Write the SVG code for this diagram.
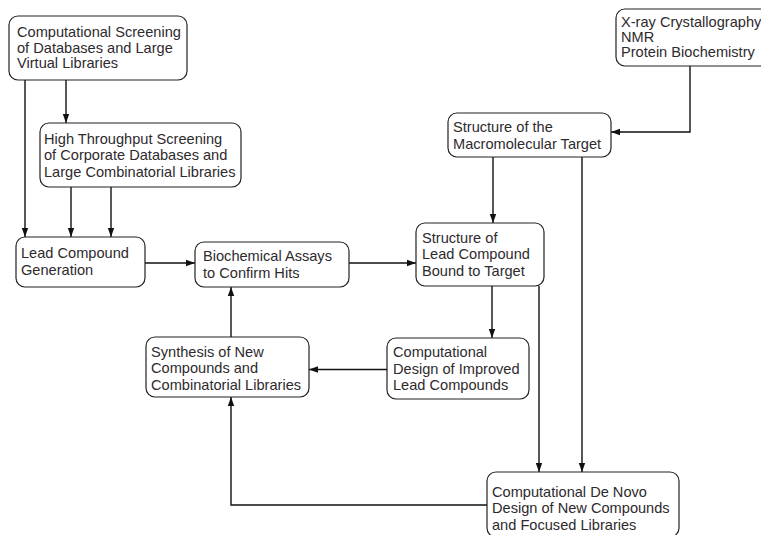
<svg xmlns="http://www.w3.org/2000/svg" width="761" height="535" viewBox="0 0 761 535">
<style>
.box{fill:#fff;stroke:#222;stroke-width:1.2}
.t{font-family:"Liberation Sans",Arial,sans-serif;font-size:14.6px;fill:#2e2a2e}
.c{fill:none;stroke:#111;stroke-width:1.4}
</style>
<defs>
<marker id="ah" markerWidth="10" markerHeight="8" refX="9" refY="4" orient="auto" markerUnits="userSpaceOnUse">
<path d="M0,0.8 L9,4 L0,7.2 Z" fill="#111"/>
</marker>
</defs>
<rect width="761" height="535" fill="#fff"/>
<g id="connectors">
<path class="c" d="M66,80 V123" marker-end="url(#ah)"/>
<path class="c" d="M25,80 V237" marker-end="url(#ah)"/>
<path class="c" d="M71,187 V237" marker-end="url(#ah)"/>
<path class="c" d="M111,187 V237" marker-end="url(#ah)"/>
<path class="c" d="M145,263 H195" marker-end="url(#ah)"/>
<path class="c" d="M349,263 H416" marker-end="url(#ah)"/>
<path class="c" d="M690,66 V132 H611" marker-end="url(#ah)"/>
<path class="c" d="M493,157 V223" marker-end="url(#ah)"/>
<path class="c" d="M582,157 V472" marker-end="url(#ah)"/>
<path class="c" d="M492,286 V338" marker-end="url(#ah)"/>
<path class="c" d="M539,286 V472" marker-end="url(#ah)"/>
<path class="c" d="M387,369.5 H309" marker-end="url(#ah)"/>
<path class="c" d="M231,337 V287" marker-end="url(#ah)"/>
<path class="c" d="M487,505 H231 V397" marker-end="url(#ah)"/>
</g>
<g id="n1">
<rect class="box" x="9" y="16" width="178" height="64" rx="9"/>
<text class="t" x="17" y="37">Computational Screening</text>
<text class="t" x="17" y="52.5">of Databases and Large</text>
<text class="t" x="17" y="68">Virtual Libraries</text>
</g>
<g id="n2">
<rect class="box" x="40" y="123" width="201" height="64" rx="9"/>
<text class="t" x="44" y="143.5">High Throughput Screening</text>
<text class="t" x="44" y="160">of Corporate Databases and</text>
<text class="t" x="44" y="177">Large Combinatorial Libraries</text>
</g>
<g id="n3">
<rect class="box" x="16" y="237" width="129" height="50" rx="9"/>
<text class="t" x="21" y="258">Lead Compound</text>
<text class="t" x="21" y="275">Generation</text>
</g>
<g id="n4">
<rect class="box" x="195" y="242" width="154" height="45" rx="9"/>
<text class="t" x="203" y="261">Biochemical Assays</text>
<text class="t" x="203" y="278">to Confirm Hits</text>
</g>
<g id="n5">
<rect class="box" x="146" y="337" width="163" height="60" rx="9"/>
<text class="t" x="151" y="356.5">Synthesis of New</text>
<text class="t" x="151" y="373">Compounds and</text>
<text class="t" x="151" y="389.5">Combinatorial Libraries</text>
</g>
<g id="n6">
<rect class="box" x="448" y="113" width="163" height="44" rx="9"/>
<text class="t" x="453" y="132">Structure of the</text>
<text class="t" x="453" y="148.5">Macromolecular Target</text>
</g>
<g id="n7">
<rect class="box" x="416" y="223" width="128" height="63" rx="9"/>
<text class="t" x="422" y="243">Structure of</text>
<text class="t" x="422" y="259">Lead Compound</text>
<text class="t" x="422" y="275.5">Bound to Target</text>
</g>
<g id="n8">
<rect class="box" x="387" y="338" width="142" height="61" rx="9"/>
<text class="t" x="393" y="357">Computational</text>
<text class="t" x="393" y="373.5">Design of Improved</text>
<text class="t" x="393" y="390">Lead Compounds</text>
</g>
<g id="n9">
<rect class="box" x="487" y="472" width="192" height="65" rx="9"/>
<text class="t" x="492" y="497">Computational De Novo</text>
<text class="t" x="492" y="513">Design of New Compounds</text>
<text class="t" x="492" y="529.5">and Focused Libraries</text>
</g>
<g id="n10">
<rect class="box" x="616" y="9" width="160" height="57" rx="9"/>
<text class="t" x="621" y="27">X-ray Crystallography</text>
<text class="t" x="621" y="42">NMR</text>
<text class="t" x="621" y="57">Protein Biochemistry</text>
</g>
</svg>
